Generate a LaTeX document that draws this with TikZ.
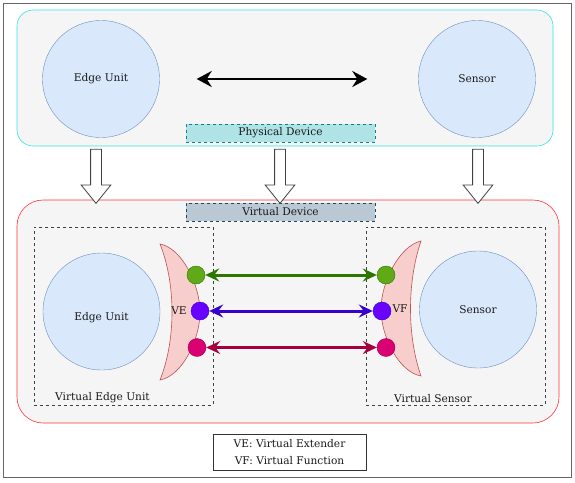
\documentclass[tikz,border=0pt]{standalone}
\usepackage{fontspec}
\setmainfont{DejaVu Serif}
\usetikzlibrary{positioning, calc}
\usetikzlibrary{shapes,arrows.meta}
\definecolor{unitfill}{HTML}{DAE8FC}
\definecolor{unitline}{HTML}{6C8EBF}
\definecolor{boxfill}{HTML}{F5F5F5}
\definecolor{physline}{HTML}{33E3EA}
\definecolor{virtline}{HTML}{FF3333}
\definecolor{physlabel}{HTML}{B0E3E6}
\definecolor{physlabelline}{HTML}{0E8088}
\definecolor{virtlabel}{HTML}{BAC8D3}
\definecolor{virtlabelline}{HTML}{23445D}
\definecolor{extfill}{HTML}{F8CECC}
\definecolor{extline}{HTML}{B85450}
\definecolor{gdot}{HTML}{60A917}
\definecolor{gline}{HTML}{2D7600}
\definecolor{bdot}{HTML}{6A00FF}
\definecolor{bline}{HTML}{3700CC}
\definecolor{mdot}{HTML}{D80073}
\definecolor{mline}{HTML}{A50040}
\tikzstyle{unit} = [circle, draw=unitline, fill=unitfill, minimum size=117pt, inner sep=0pt]
\tikzstyle{device} = [rectangle, rounded corners=16pt, fill=boxfill, line width=0.6pt]
\tikzstyle{tag} = [rectangle, draw, dashed, minimum width=189pt, minimum height=18pt, inner sep=0pt]
\tikzstyle{part} = [rectangle, draw=black!75, dashed, line width=0.6pt, minimum width=179pt, minimum height=178pt]
\tikzstyle{port} = [circle, minimum size=18pt, inner sep=0pt]
\tikzstyle{down} = [single arrow, draw=black!75, fill=white, line width=0.8pt, rotate=-90,
    minimum height=54pt, minimum width=29pt, inner sep=5pt,
    single arrow head extend=9.5pt, single arrow tip angle=78]
\tikzstyle{link} = [line width=3pt, {Stealth[length=14pt,width=13pt,inset=5pt]}-{Stealth[length=14pt,width=13pt,inset=5pt]}]

\begin{document}
\begin{tikzpicture}[x=1pt, y=-1pt, font=\fontsize{10.6}{12.5}\selectfont, text=black!90]
  \useasboundingbox (0,0) rectangle (575,482);
  \draw[black!60, line width=0.8pt] (3.5,3.5) rectangle (571.5,477.5);
   % Physical device
    \node [device, draw=physline, minimum width=536pt, minimum height=136pt] (phys) at (285,78) {};
    \node [unit] (edge) at (101,79) {Edge Unit};
    \node [unit] (sensor) at (477,79) {Sensor};
    \node [tag, fill=physlabel, draw=physlabelline] (physlabel) at (280.5,133) {Physical Device};
    \draw [line width=2.6pt, {Stealth[length=15pt,width=16pt,inset=5pt]}-{Stealth[length=15pt,width=16pt,inset=5pt]},
      shorten <=37pt, shorten >=51pt] (edge) -- (sensor);
   % Virtual device
    \node [device, rounded corners=26pt, draw=virtline, minimum width=542pt, minimum height=223pt] (virt) at (288,311.5) {};
    \node [tag, fill=virtlabel, draw=virtlabelline] (virtlabel) at (280.5,212) {Virtual Device};
    \node [part] (veu) at (123.5,316) {};
    \node [part] (vsensor) at (455.5,316) {};
    \node [above right=-1pt and 18pt of veu.south west, anchor=south west] {Virtual Edge Unit};
    \node [above right=-1pt and 25pt of vsensor.south west, anchor=south west] {Virtual Sensor};
    \node [unit, label={[yshift=-6.5pt]center:Edge Unit}] (vedge) at (101.5,311.5) {};
    \node [unit] (vsens) at (478,309.5) {Sensor};
   % Extender and function
    \draw [fill=extfill, draw=extline, line width=0.6pt] (160,244) .. controls (182,248) and (200,285) .. (200,312)
      .. controls (200,340) and (182,376) .. (160,380) .. controls (176,340) and (176,284) .. (160,244) -- cycle;
    \draw [fill=extfill, draw=extline, line width=0.6pt] (421,241) .. controls (399,246) and (381,283) .. (381,309)
      .. controls (381,337) and (399,372) .. (421,376) .. controls (407,336) and (407,282) .. (421,241) -- cycle;
    \node (ve) at (179,311) {VE};
    \node (vf) at (400,309) {VF};
    \node [port, fill=gdot, draw=gline] (ve1) at (196,275) {};
    \node [port, fill=bdot, draw=bline] (ve2) at (200,311) {};
    \node [port, fill=mdot, draw=mline] (ve3) at (197,347.5) {};
    \node [port, fill=gdot, draw=gline] (vf1) at (386,275) {};
    \node [port, fill=bdot, draw=bline] (vf2) at (382,311) {};
    \node [port, fill=mdot, draw=mline] (vf3) at (386,347.5) {};
    \draw [link, gline] (ve1) -- (vf1);
    \draw [link, bline] (ve2) -- (vf2);
    \draw [link, mline] (ve3) -- (vf3);
   % Mapping arrows
    \node [down] (map1) at (96,173) {};
    \node [down] (map2) at (280,173) {};
    \node [down] (map3) at (478,173) {};
   % Legend
    \node [rectangle, draw=black!80, line width=0.6pt, minimum width=153pt, minimum height=36pt, align=center,
      inner sep=1pt] (legend) at (289.5,452) {VE: Virtual Extender\\[4pt]VF: Virtual Function};
\end{tikzpicture}
\end{document}
